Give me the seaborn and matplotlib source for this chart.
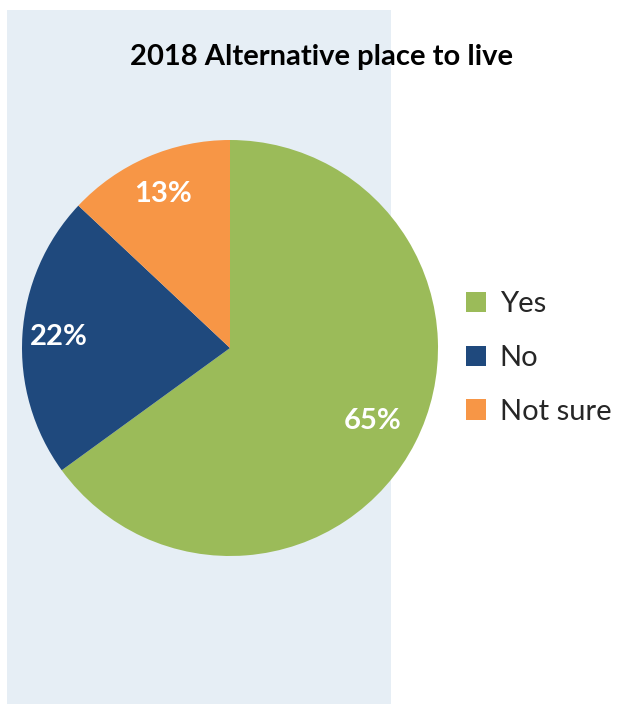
import matplotlib
matplotlib.use("Agg")
import matplotlib.pyplot as plt
import seaborn as sns
from matplotlib.patches import Rectangle

categories = ["Yes", "No", "Not sure"]
values = [65, 22, 13]
colors = ["#9BBB59", "#1F497D", "#F79646"]
title = "2018 Alternative place to live"

sns.set_theme(style="white")
plt.rcParams["font.family"] = ["Lato", "DejaVu Sans"]

W, H = 621, 704
fig = plt.figure(figsize=(W / 100, H / 100), dpi=100)
fig.patch.set_facecolor("white")

# light blue panel
fig.patches.append(Rectangle((7 / W, 0), (391 - 7) / W, (704 - 10) / H,
                             transform=fig.transFigure, facecolor="#E6EEF5",
                             edgecolor="none", zorder=-5))

cx, cy, r = 230, 348, 208
ax = fig.add_axes([(cx - r) / W, (H - cy - r) / H, 2 * r / W, 2 * r / H])
ax.set_facecolor("none")
ax.set_zorder(2)
wedges, texts, autotexts = ax.pie(values, colors=colors, startangle=90, counterclock=False,
                                  autopct="%d%%", pctdistance=0.8,
                                  wedgeprops=dict(linewidth=0),
                                  textprops=dict(color="white", fontsize=21, fontweight="bold"))
scale = [0.96, 1.03, 1.01]
for t, s in zip(autotexts, scale):
    x, y = t.get_position()
    t.set_position((x * s, y * s))
ax.set_xlim(-1, 1)
ax.set_ylim(-1, 1)
ax.set_aspect("equal")
ax.axis("off")

fig.text(322 / W, 1 - 57 / H, title, ha="center", va="center",
         fontsize=21, fontweight="bold", color="black")

leg = fig.legend(wedges, categories, loc="center left",
                 bbox_to_anchor=(466 / W, 1 - 358 / H), frameon=False,
                 borderpad=0, borderaxespad=0,
                 fontsize=21, handlelength=0.7, handleheight=0.7,
                 handletextpad=0.45, labelspacing=0.95)

fig.savefig("out.png", dpi=100)
